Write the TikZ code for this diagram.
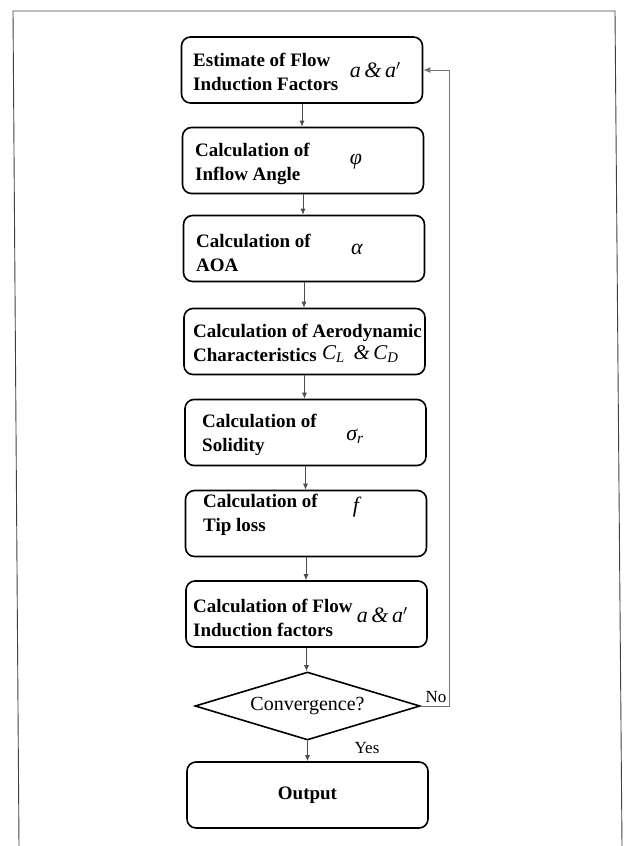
\documentclass[tikz,border=0pt]{standalone}
\usepackage{fontspec}
\setmainfont{Liberation Serif}
\usetikzlibrary{arrows.meta,shapes.geometric}
\tikzset{
  box/.style={draw, line width=1.6pt, rounded corners=9pt, minimum width=241pt, minimum height=66pt, inner sep=0pt},
  btxt/.style={anchor=west, align=left, inner sep=0pt, font=\bfseries\fontsize{19}{24}\selectfont},
  sym/.style={inner sep=0pt, font=\itshape\fontsize{22}{24}\selectfont},
  arr/.style={-{Latex[length=6pt,width=5pt]}, draw=black!70, line width=0.8pt},
  backarr/.style={-{Latex[length=7pt,width=6pt]}, draw=black!55, line width=0.9pt},
  lbl/.style={inner sep=0pt, font=\fontsize{17}{19}\selectfont},
  frame/.style={draw=black!75, line width=0.9pt}
}
\begin{document}
\begin{tikzpicture}[x=1pt,y=-1pt]
\useasboundingbox (0,0) rectangle (625,846);
% frame
\draw[frame] (19,846) -- (13,11) -- (615,11) -- (622,846);
% boxes
\node[box] (b1) at (302,70) {};
\node[box] (b2) at (303,160.5) {};
\node[box] (b3) at (304,248.5) {};
\node[box] (b4) at (304.5,341.5) {};
\node[box] (b5) at (305.5,432.5) {};
\node[box] (b6) at (306,523.5) {};
\node[box] (b7) at (306.5,614) {};
\node[draw, diamond, line width=1.6pt, minimum width=225pt, minimum height=68pt, shape aspect=3.3, inner sep=0pt] (dia) at (307.5,706) {};
\node[box] (out) at (307.5,795) {};
% texts
\node[btxt] (t1) at (193,71.5) {Estimate of Flow\\Induction Factors};
\node[sym] (s1) at (373,70) {a\,\&\,a\rlap{$'$}};
\node[btxt] (t2) at (195,164) {Calculation of\\Inflow Angle};
\node[sym] (s2) at (356,162) {φ};
\node[btxt] (t3) at (196,253) {Calculation of\\AOA};
\node[sym] (s3) at (357,249) {α};
\node[btxt] (t4) at (193,342.5) {Calculation of Aerodynamic\\Characteristics};
\node[sym, font=\itshape\fontsize{21}{22}\selectfont, anchor=west] (s4) at (322,354) {C\textsubscript{L} \,\&\,C\textsubscript{D}};
\node[btxt] (t5) at (202,435) {Calculation of\\Solidity};
\node[sym] (s5) at (355,436) {σ\textsubscript{r}};
\node[btxt] (t6) at (203,515) {Calculation of\\Tip loss};
\node[sym] (s6) at (356,507) {f};
\node[btxt] (t7) at (193,617.5) {Calculation of Flow\\Induction factors};
\node[sym] (s7) at (380,615) {a\,\&\,a\rlap{$'$}};
\node[inner sep=0pt, font=\fontsize{20}{22}\selectfont] (tdia) at (dia.center) {Convergence?};
\node[inner sep=0pt, font=\bfseries\fontsize{19}{21}\selectfont] (tout) at (out.center) {Output};
\node[lbl] (no) at (436,697) {No};
\node[lbl] (yes) at (367,748) {Yes};
% connectors
\draw[arr] (b1.south) -- (b1.south |- b2.north);
\draw[arr] (b2.south) -- (b2.south |- b3.north);
\draw[arr] (b3.south) -- (b3.south |- b4.north);
\draw[arr] (b4.south) -- (b4.south |- b5.north);
\draw[arr] (b5.south) -- (b5.south |- b6.north);
\draw[arr] (b6.south) -- (b6.south |- b7.north);
\draw[arr] (b7.south) -- (b7.south |- dia.north);
\draw[arr] (dia.south) -- (dia.south |- out.north);
\draw[backarr] (dia.east) -- ++(29,0) |- (b1.east);
\end{tikzpicture}
\end{document}
